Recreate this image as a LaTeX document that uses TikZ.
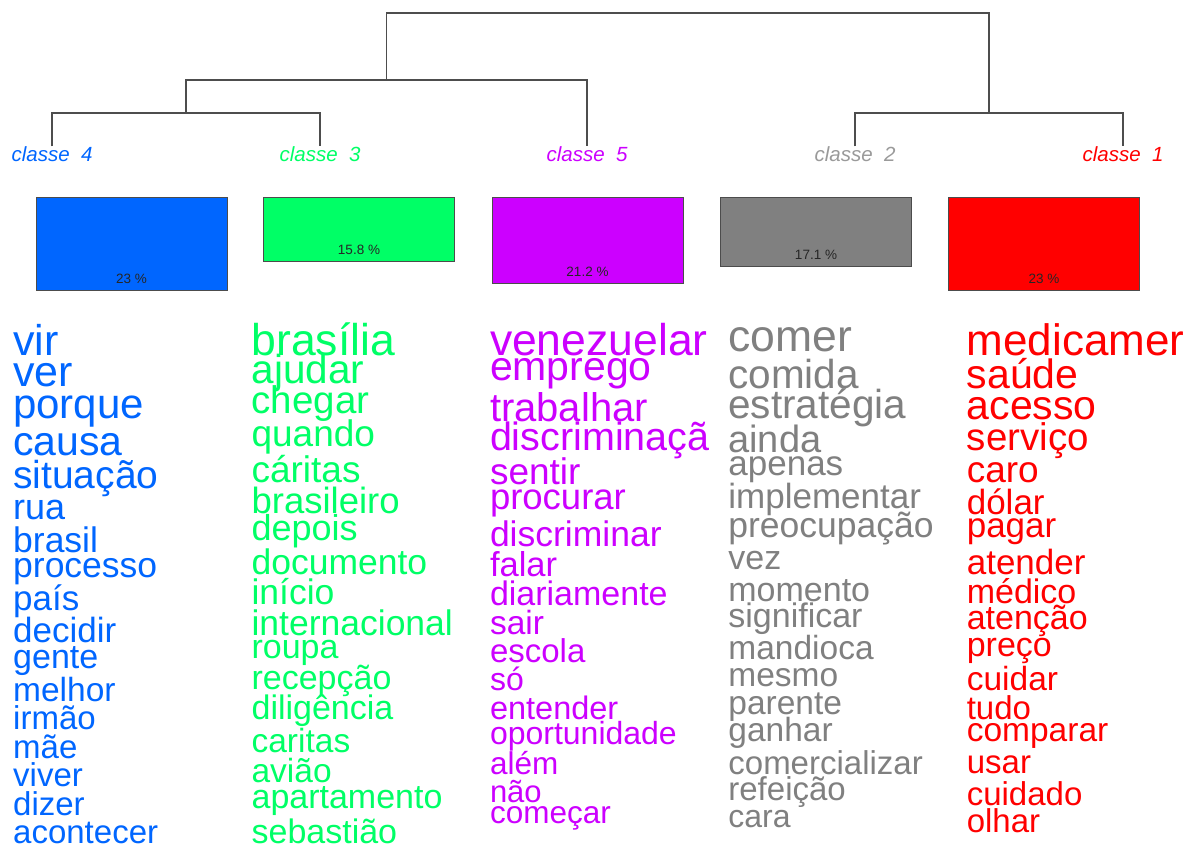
\documentclass[tikz,border=0pt]{standalone}
\usepackage{fontspec}
\setmainfont{Liberation Sans}
\definecolor{cred}{HTML}{FF0000}
\definecolor{cgrey}{HTML}{808080}
\definecolor{cgreen}{HTML}{00FF66}
\definecolor{cblue}{HTML}{0066FF}
\definecolor{cpurple}{HTML}{CC00FF}
\definecolor{dendro}{HTML}{4D4D4D}
\tikzset{
  dend/.style={draw=dendro, line width=1.4pt},
  clab/.style={inner sep=0pt, font=\fontsize{20.5}{20.5}\selectfont\itshape},
  pbox/.style={draw=black!70, line width=0.9pt, minimum width=191pt, anchor=north, inner sep=0pt},
  pct/.style={inner sep=0pt, font=\fontsize{13.5}{13.5}\selectfont, text=black!85},
  word/.style={inner sep=0pt, anchor=base west}
}
\begin{document}
\begin{tikzpicture}[x=1pt, y=-1pt]
\useasboundingbox (0,0) rectangle (1188,844);
\fill[white] (0,0) rectangle (1188,844);

% class labels
\node[clab, text=cblue] (c4) at (52,154) {classe~~4};
\node[clab, text=cgreen] (c3) at (320,154) {classe~~3};
\node[clab, text=cpurple] (c5) at (587,154) {classe~~5};
\node[clab, text=cgrey!80] (c2) at (855,154) {classe~~2};
\node[clab, text=cred] (c1) at (1123,154) {classe~~1};

% dendrogram junctions
\coordinate (j43) at (186,113);
\coordinate (j435) at (386.5,80);
\coordinate (j21) at (989,113);
\coordinate (jtop) at (386.5,13);

\draw[dend] (c4.north) |- (j43) -| (c3.north);
\draw[dend] (j43) |- (j435) -| (c5.north);
\draw[dend] (c2.north) |- (j21) -| (c1.north);
\draw[dend] (j435) -- (jtop) -| (j21);

% boxes
\node[pbox, fill=cblue, minimum height=93.4pt] (b4) at (131.5,197) {};
\node[pbox, fill=cgreen, minimum height=64.2pt] (b3) at (359,197) {};
\node[pbox, fill=cpurple, minimum height=86.1pt] (b5) at (587.5,197) {};
\node[pbox, fill=cgrey, minimum height=69.4pt] (b2) at (816,197) {};
\node[pbox, fill=cred, minimum height=93.4pt] (b1) at (1044,197) {};

\node[pct] (p4) at ([yshift=12pt]b4.south) {23 \%};
\node[pct] (p3) at ([yshift=12pt]b3.south) {15.8 \%};
\node[pct] (p5) at ([yshift=12pt]b5.south) {21.2 \%};
\node[pct] (p2) at ([yshift=12pt]b2.south) {17.1 \%};
\node[pct] (p1) at ([yshift=12pt]b1.south) {23 \%};

% class 4 words
\foreach \i/\y/\s/\w in {1/355/43/vir, 2/386.6/43/ver, 3/418.3/42/porque, 4/455.8/41/causa, 5/488.8/39/situação, 6/519.5/36/rua, 7/552.5/35.5/brasil, 8/577.4/35.5/processo, 9/610.4/35/país, 10/642/35/decidir, 11/668.3/34/gente, 12/701/33.5/melhor, 13/729.6/33/irmão, 14/758/33/mãe, 15/786.8/33/viver, 16/815.7/33/dizer, 17/843.5/33/acontecer}
  \node[word, text=cblue] (w4-\i) at (13,\y) {\fontsize{\s}{\s}\selectfont \w};

% class 3 words
\foreach \i/\y/\s/\w in {1/355/44.5/brasília, 2/383.2/40.5/ajudar, 3/413.9/38.5/chegar, 4/446.2/37/quando, 5/482/37/cáritas, 6/513.3/36.5/brasileiro, 7/540.9/36/depois, 8/574/35.5/documento, 9/604.6/35.5/início, 10/635.3/35.5/internacional, 11/658.1/34/roupa, 12/689.8/34/recepção, 13/719.4/34/diligência, 14/752.8/33.5/caritas, 15/782.5/33.5/avião, 16/808/34/apartamento, 17/843.5/34/sebastião}
  \node[word, text=cgreen] (w3-\i) at (251.4,\y) {\fontsize{\s}{\s}\selectfont \w};

% class 5 words
\foreach \i/\y/\s/\w in {1/355/44.5/venezuelar, 2/380/41/emprego, 3/421.7/40/trabalhar, 4/450.3/39.5/discriminaçã, 5/484.5/37/sentir, 6/509/36.5/procurar, 7/546.7/35.5/discriminar, 8/576/34.5/falar, 9/605.3/34/diariamente, 10/634/33.5/sair, 11/662.6/33/escola, 12/690.8/32/só, 13/719.5/32.5/entender, 14/744/32/oportunidade, 15/774.9/31.5/além, 16/802/31/não, 17/823.8/31.5/começar}
  \node[word, text=cpurple] (w5-\i) at (489.8,\y) {\fontsize{\s}{\s}\selectfont \w};

% class 2 words
\foreach \i/\y/\s/\w in {1/351.5/44.5/comer, 2/388/40.5/comida, 3/418/40.5/estratégia, 4/452.5/38/ainda, 5/475.2/35/apenas, 6/508.5/35/implementar, 7/537.5/35.5/preocupação, 8/569/34/vez, 9/601.5/34/momento, 10/627/34/significar, 11/659.7/33.5/mandioca, 12/686.6/33.5/mesmo, 13/714.8/33.5/parente, 14/741/33.5/ganhar, 15/774.9/33/comercializar, 16/800.3/33/refeição, 17/827.5/32/cara}
  \node[word, text=cgrey] (w2-\i) at (728.2,\y) {\fontsize{\s}{\s}\selectfont \w};

% class 1 words
\foreach \i/\y/\s/\w in {1/355.5/44/medicamer, 2/388.3/41/saúde, 3/419/41/acesso, 4/450.2/38.5/serviço, 5/482.3/37/caro, 6/514.8/35/dólar, 7/537.4/35/pagar, 8/574.5/35/atender, 9/603.8/34/médico, 10/629/34/atenção, 11/656/34/preço, 12/690/33.5/cuidar, 13/719/33/tudo, 14/741.5/33.5/comparar, 15/773/33/usar, 16/805.5/33/cuidado, 17/832.8/33/olhar}
  \node[word, text=cred] (w1-\i) at (966.6,\y) {\fontsize{\s}{\s}\selectfont \w};
\end{tikzpicture}
\end{document}
